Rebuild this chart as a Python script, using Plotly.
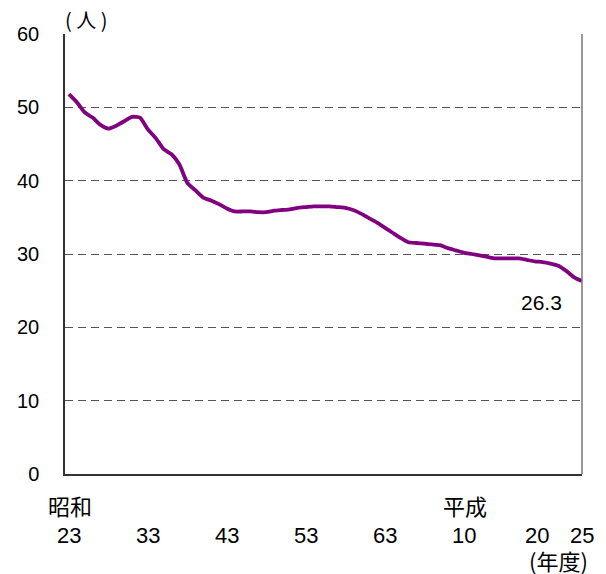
import plotly.graph_objects as go

years = list(range(1948, 2014))
values = [
    51.8, 50.7, 49.3, 48.6, 47.6, 47.1, 47.5, 48.1, 48.7, 48.6,  # 1948-1957
    47.0, 45.8, 44.3, 43.6, 42.2, 39.7, 38.7, 37.7, 37.3, 36.8,  # 1958-1967
    36.2, 35.8, 35.8, 35.8, 35.7, 35.7, 35.9, 36.0, 36.1, 36.3,  # 1968-1977
    36.4, 36.5, 36.5, 36.5, 36.4, 36.3, 36.0, 35.5, 34.9, 34.3,  # 1978-1987
    33.6, 32.9, 32.2, 31.6, 31.5, 31.4, 31.3, 31.2, 30.8, 30.5,  # 1988-1997
    30.2, 30.0, 29.8, 29.6, 29.4, 29.4, 29.4, 29.4, 29.2, 29.0,  # 1998-2007
    28.9, 28.7, 28.4, 27.7, 26.8, 26.3,                          # 2008-2013
]
tick_years = [1948, 1958, 1968, 1978, 1988, 1998, 2008, 2013]
tick_labels = ["23", "33", "43", "53", "63", "10", "20", "25"]
era_years = [1948, 1998]
era_labels = ["昭和", "平成"]
y_ticks = [0, 10, 20, 30, 40, 50, 60]

FONT = "Liberation Sans, Arial, sans-serif"
CJK = "Noto Sans CJK JP, sans-serif"

fig = go.Figure()
fig.add_trace(go.Scatter(
    x=years, y=values, mode="lines",
    line=dict(color="#800080", width=3.8, shape="spline", smoothing=0.5),
    showlegend=False, hoverinfo="skip",
))

fig.update_layout(
    width=598, height=566,
    margin=dict(l=57, r=24, t=26, b=100, autoexpand=False),
    paper_bgcolor="white", plot_bgcolor="white",
    font=dict(family=FONT, size=20, color="black"),
    xaxis=dict(
        range=[1947.5, 2013], showgrid=False, zeroline=False,
        showticklabels=False, showline=True, linecolor="#333333", linewidth=1.5,
        fixedrange=True,
    ),
    yaxis=dict(
        range=[0, 60], tickvals=y_ticks, showgrid=True,
        gridcolor="#555555", griddash="8px,5px", gridwidth=1,
        zeroline=False, showline=True, linecolor="#333333", linewidth=1.5,
        ticks="outside", ticklen=20, tickcolor="rgba(0,0,0,0)",
        tickfont=dict(family=FONT, size=20, color="black"),
    ),
)

# right frame line
fig.add_shape(type="line", xref="paper", yref="paper", x0=1, x1=1, y0=0, y1=1,
              line=dict(color="#777777", width=1.5))

annotations = []
for yr, lab in zip(tick_years, tick_labels):
    shift = -6 if lab == "20" else 0
    annotations.append(dict(x=yr, y=0, xref="x", yref="paper", text=lab,
                            showarrow=False, yanchor="middle", yshift=-61, xshift=shift,
                            font=dict(family=FONT, size=22, color="black")))
for yr, lab in zip(era_years, era_labels):
    annotations.append(dict(x=yr, y=0, xref="x", yref="paper", text=lab,
                            showarrow=False, yanchor="middle", yshift=-31, xshift=1,
                            font=dict(family=CJK, size=22, color="black")))
annotations.append(dict(x=1, y=0, xref="paper", yref="paper", text="(年度)",
                        showarrow=False, xanchor="right", yanchor="middle",
                        yshift=-86, xshift=8,
                        font=dict(family=CJK, size=22, color="black")))
annotations.append(dict(x=0, y=1, xref="paper", yref="paper", text="( 人 )",
                        showarrow=False, xanchor="left", yanchor="middle",
                        yshift=15, xshift=-2,
                        font=dict(family=CJK, size=20, color="black")))
annotations.append(dict(x=years[-1], y=values[-1], xref="x", yref="y",
                        text=str(values[-1]), showarrow=False,
                        xanchor="center", yanchor="middle", xshift=-41, yshift=-21,
                        font=dict(family=FONT, size=21, color="black")))
fig.update_layout(annotations=annotations)

fig.write_html("out.html")
